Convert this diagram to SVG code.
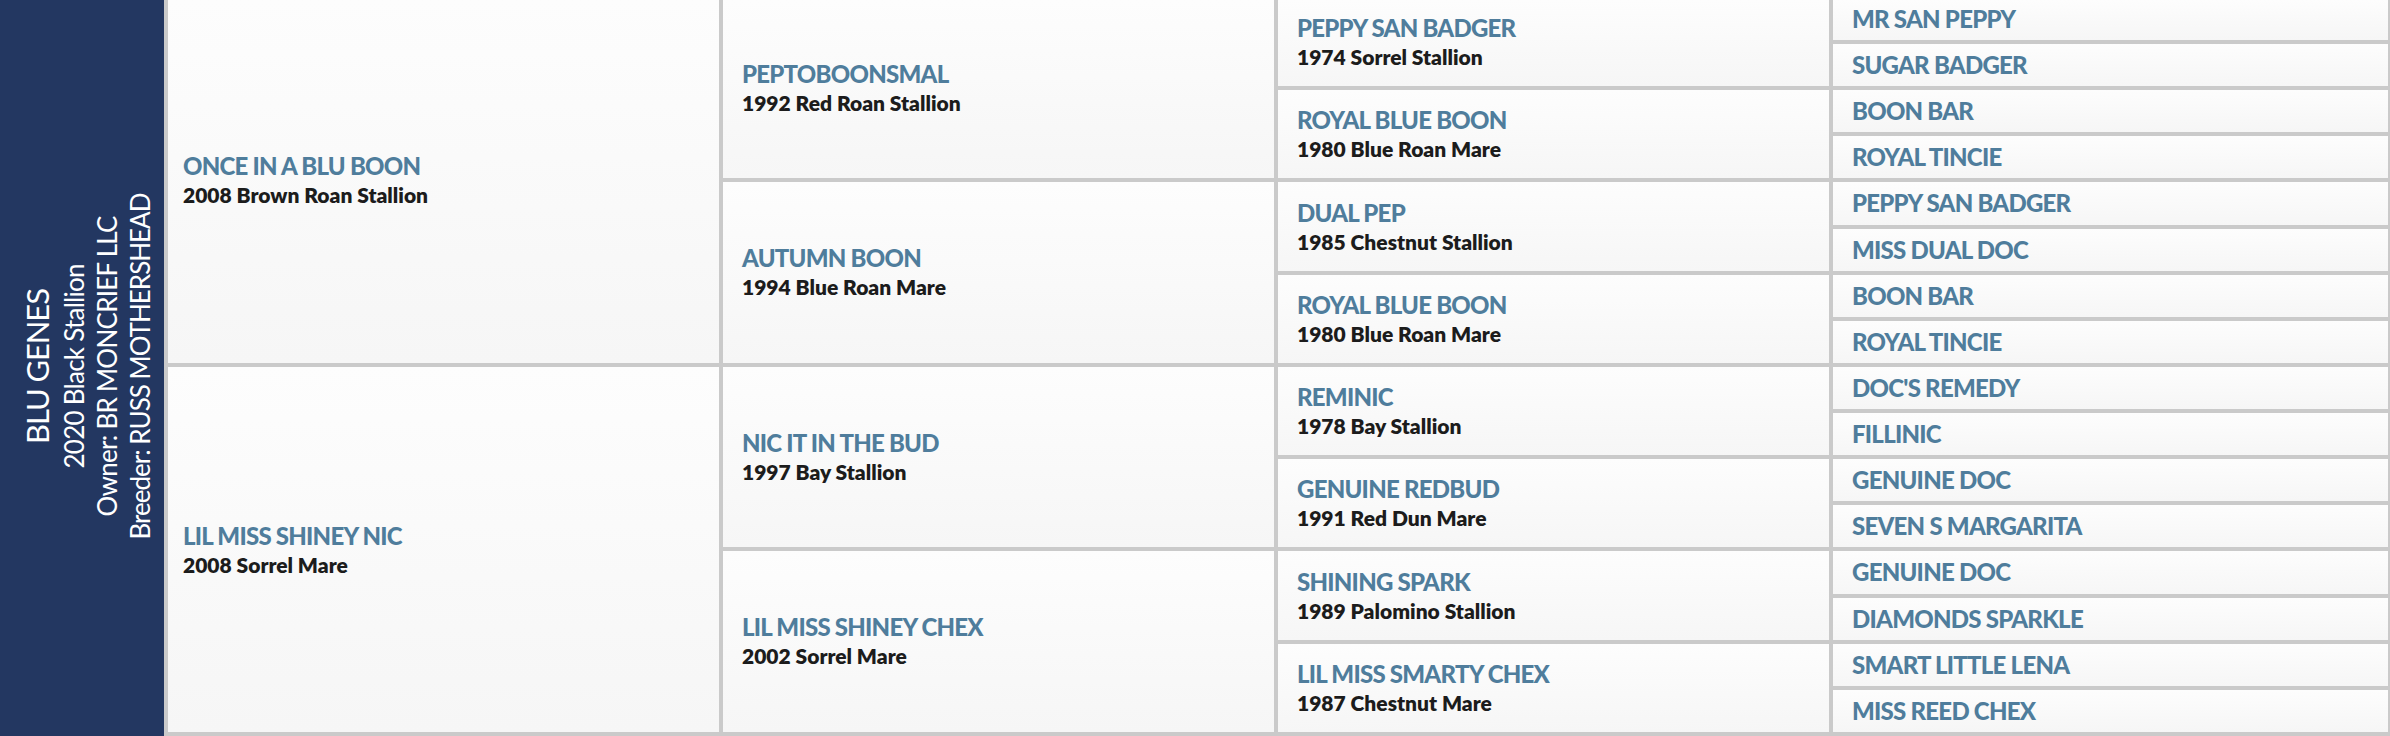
<svg xmlns="http://www.w3.org/2000/svg" width="2390" height="736" viewBox="0 0 2390 736">
<defs>
<linearGradient id="cellg" x1="0" y1="0" x2="0" y2="1">
<stop offset="0" stop-color="#fdfdfd"/>
<stop offset="1" stop-color="#f6f6f6"/>
</linearGradient>
</defs>
<style>
.cell{fill:url(#cellg)}
.nm{font-family:Lato,"Liberation Sans",sans-serif;font-weight:900;font-size:24px;letter-spacing:-0.75px;fill:#4f7d9c}
.yr{font-family:Lato,"Liberation Sans",sans-serif;font-weight:800;font-size:21px;fill:#1c1c1c}
.vt{font-family:Lato,"Liberation Sans",sans-serif;font-weight:400;fill:#ffffff;text-anchor:middle}
</style>
<rect x="0" y="0" width="2390" height="736" fill="#cacaca"/>
<g id="subject">
<rect x="0" y="0" width="164" height="736" fill="#233761"/>
<text class="vt" font-size="31" textLength="156" transform="translate(49,366) rotate(-90)">BLU GENES</text>
<text class="vt" font-size="26" textLength="205" transform="translate(84,366) rotate(-90)">2020 Black Stallion</text>
<text class="vt" font-size="26" textLength="301" transform="translate(117,366) rotate(-90)">Owner: BR MONCRIEF LLC</text>
<text class="vt" font-size="26" textLength="347" transform="translate(150,366) rotate(-90)">Breeder: RUSS MOTHERSHEAD</text>
</g>
<g id="connectors"></g>
<!-- Generation 1 -->
<g id="sire"><rect class="cell" x="168" y="0" width="551" height="363"/><text class="nm" x="183" y="175">ONCE IN A BLU BOON</text><text class="yr" x="183" y="203">2008 Brown Roan Stallion</text></g>
<g id="dam"><rect class="cell" x="168" y="367" width="551" height="365"/><text class="nm" x="183" y="545">LIL MISS SHINEY NIC</text><text class="yr" x="183" y="573">2008 Sorrel Mare</text></g>
<!-- Generation 2 -->
<g id="ss"><rect class="cell" x="723" y="0" width="551" height="178"/><text class="nm" x="742" y="83">PEPTOBOONSMAL</text><text class="yr" x="742" y="111">1992 Red Roan Stallion</text></g>
<g id="sd"><rect class="cell" x="723" y="182" width="551" height="181"/><text class="nm" x="742" y="267">AUTUMN BOON</text><text class="yr" x="742" y="295">1994 Blue Roan Mare</text></g>
<g id="ds"><rect class="cell" x="723" y="367" width="551" height="180"/><text class="nm" x="742" y="452">NIC IT IN THE BUD</text><text class="yr" x="742" y="480">1997 Bay Stallion</text></g>
<g id="dd"><rect class="cell" x="723" y="551" width="551" height="181"/><text class="nm" x="742" y="636">LIL MISS SHINEY CHEX</text><text class="yr" x="742" y="664">2002 Sorrel Mare</text></g>
<!-- Generation 3 -->
<g id="sss"><rect class="cell" x="1278" y="0" width="551" height="86"/><text class="nm" x="1297" y="37">PEPPY SAN BADGER</text><text class="yr" x="1297" y="65">1974 Sorrel Stallion</text></g>
<g id="ssd"><rect class="cell" x="1278" y="90" width="551" height="88"/><text class="nm" x="1297" y="129">ROYAL BLUE BOON</text><text class="yr" x="1297" y="157">1980 Blue Roan Mare</text></g>
<g id="sds"><rect class="cell" x="1278" y="182" width="551" height="89"/><text class="nm" x="1297" y="221.5">DUAL PEP</text><text class="yr" x="1297" y="249.5">1985 Chestnut Stallion</text></g>
<g id="sdd"><rect class="cell" x="1278" y="275" width="551" height="88"/><text class="nm" x="1297" y="314">ROYAL BLUE BOON</text><text class="yr" x="1297" y="342">1980 Blue Roan Mare</text></g>
<g id="dss"><rect class="cell" x="1278" y="367" width="551" height="88"/><text class="nm" x="1297" y="406">REMINIC</text><text class="yr" x="1297" y="434">1978 Bay Stallion</text></g>
<g id="dsd"><rect class="cell" x="1278" y="459" width="551" height="88"/><text class="nm" x="1297" y="498">GENUINE REDBUD</text><text class="yr" x="1297" y="526">1991 Red Dun Mare</text></g>
<g id="dds"><rect class="cell" x="1278" y="551" width="551" height="89"/><text class="nm" x="1297" y="590.5">SHINING SPARK</text><text class="yr" x="1297" y="618.5">1989 Palomino Stallion</text></g>
<g id="ddd"><rect class="cell" x="1278" y="644" width="551" height="88"/><text class="nm" x="1297" y="683">LIL MISS SMARTY CHEX</text><text class="yr" x="1297" y="711">1987 Chestnut Mare</text></g>
<!-- Generation 4 -->
<g id="g4-0"><rect class="cell" x="1833" y="0" width="555" height="40"/><text class="nm" x="1852" y="28">MR SAN PEPPY</text></g>
<g id="g4-1"><rect class="cell" x="1833" y="44" width="555" height="42"/><text class="nm" x="1852" y="73.5">SUGAR BADGER</text></g>
<g id="g4-2"><rect class="cell" x="1833" y="90" width="555" height="42"/><text class="nm" x="1852" y="119.5">BOON BAR</text></g>
<g id="g4-3"><rect class="cell" x="1833" y="136" width="555" height="42"/><text class="nm" x="1852" y="165.5">ROYAL TINCIE</text></g>
<g id="g4-4"><rect class="cell" x="1833" y="182" width="555" height="43"/><text class="nm" x="1852" y="212">PEPPY SAN BADGER</text></g>
<g id="g4-5"><rect class="cell" x="1833" y="229" width="555" height="42"/><text class="nm" x="1852" y="258.5">MISS DUAL DOC</text></g>
<g id="g4-6"><rect class="cell" x="1833" y="275" width="555" height="42"/><text class="nm" x="1852" y="304.5">BOON BAR</text></g>
<g id="g4-7"><rect class="cell" x="1833" y="321" width="555" height="42"/><text class="nm" x="1852" y="350.5">ROYAL TINCIE</text></g>
<g id="g4-8"><rect class="cell" x="1833" y="367" width="555" height="42"/><text class="nm" x="1852" y="396.5">DOC'S REMEDY</text></g>
<g id="g4-9"><rect class="cell" x="1833" y="413" width="555" height="42"/><text class="nm" x="1852" y="442.5">FILLINIC</text></g>
<g id="g4-10"><rect class="cell" x="1833" y="459" width="555" height="42"/><text class="nm" x="1852" y="488.5">GENUINE DOC</text></g>
<g id="g4-11"><rect class="cell" x="1833" y="505" width="555" height="42"/><text class="nm" x="1852" y="534.5">SEVEN S MARGARITA</text></g>
<g id="g4-12"><rect class="cell" x="1833" y="551" width="555" height="43"/><text class="nm" x="1852" y="581">GENUINE DOC</text></g>
<g id="g4-13"><rect class="cell" x="1833" y="598" width="555" height="42"/><text class="nm" x="1852" y="627.5">DIAMONDS SPARKLE</text></g>
<g id="g4-14"><rect class="cell" x="1833" y="644" width="555" height="42"/><text class="nm" x="1852" y="673.5">SMART LITTLE LENA</text></g>
<g id="g4-15"><rect class="cell" x="1833" y="690" width="555" height="42"/><text class="nm" x="1852" y="719.5">MISS REED CHEX</text></g>
</svg>
